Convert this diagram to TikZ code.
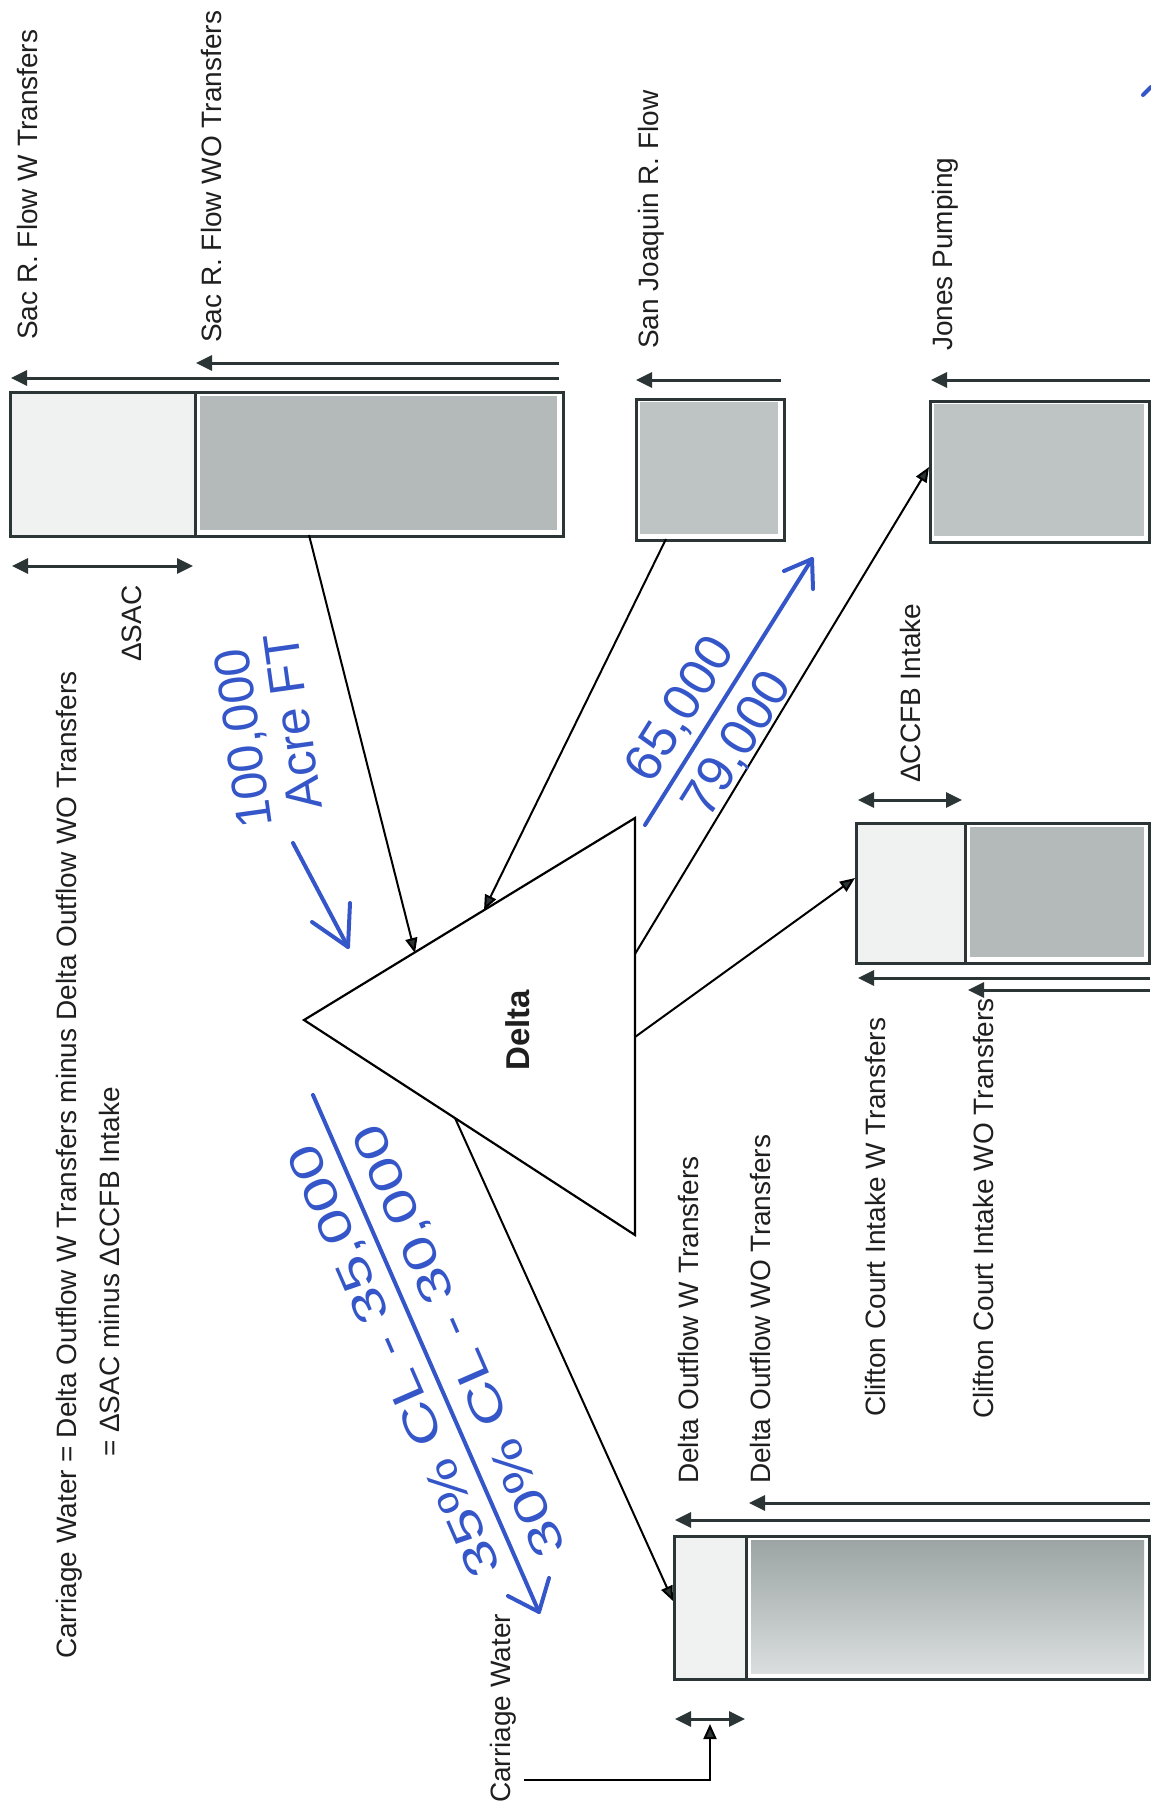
\documentclass[tikz,border=0pt]{standalone}
\usepackage{fontspec}
\setmainfont{Liberation Sans}
\usetikzlibrary{arrows.meta}
\definecolor{ink}{HTML}{2B3535}
\definecolor{pen}{HTML}{3556C8}
\definecolor{lite}{HTML}{F0F1F1}
\definecolor{mid}{HTML}{B4BABA}
\definecolor{midlt}{HTML}{BEC4C4}
\definecolor{middk}{HTML}{9CA4A4}
\definecolor{midfade}{HTML}{DADEDE}
\begin{document}
\begin{tikzpicture}[x=1pt,y=-1pt,
  lbl/.style={rotate=90,anchor=west,inner sep=0pt,font=\fontsize{28}{30}\selectfont,text=black!88},
  flow/.style={draw=ink,line width=3pt,-{Triangle[length=16pt,width=15pt,fill=ink]}},
  dbl/.style={draw=ink,line width=3pt,{Triangle[length=16pt,width=15pt,fill=ink]}-{Triangle[length=16pt,width=15pt,fill=ink]}},
  conn/.style={draw=black,line width=2pt,-{Triangle[length=15pt,width=12pt,fill=ink]}},
  boxframe/.style={draw=ink,line width=3pt,rectangle,inner sep=0pt,anchor=north west},
  divider/.style={draw=ink,line width=3pt},
  pentext/.style={text=pen,inner sep=0pt},
  penline/.style={draw=pen,line width=4pt,line cap=round,line join=round}]
\useasboundingbox (0,0) rectangle (1151,1807);
\fill[white] (0,0) rectangle (1151,1807);

% ---------- Sac box ----------
\fill[lite] (9,391) rectangle (195,535);
\fill[mid] (200,396) rectangle (557,530);
\node[boxframe,minimum width=553pt,minimum height=144pt] (sac) at (9,391) {};
\coordinate (sacdivT) at (195,391);
\coordinate (sacdivB) at (195,535);
\draw[divider] (sacdivT) -- (sacdivB);
\coordinate (sacWs) at (559,378); \coordinate (sacWe) at (11,378);
\coordinate (sacWOs) at (559,363); \coordinate (sacWOe) at (196,363);
\draw[flow] (sacWs) -- (sacWe);
\draw[flow] (sacWOs) -- (sacWOe);
\coordinate (dsacL) at (12,566); \coordinate (dsacR) at (193,566);
\draw[dbl] (dsacL) -- (dsacR);
\node[lbl] (tsacw) at (27,340) {Sac R. Flow W Transfers};
\node[lbl] (tsacwo) at (211,343) {Sac R. Flow WO Transfers};
\node[lbl] (tdsac) at (132,662) {ΔSAC};

% ---------- equation ----------
\node[lbl] (eq1) at (69,1659) {Carriage Water = Delta Outflow W Transfers minus Delta Outflow WO Transfers};
\node[lbl] (eq2) at (109,1457) {= ΔSAC minus ΔCCFB Intake};

% ---------- San Joaquin ----------
\fill[midlt] (640,402) rectangle (778,534);
\node[boxframe,minimum width=148pt,minimum height=141pt] (sj) at (635,398) {};
\coordinate (sjAs) at (781,380); \coordinate (sjAe) at (636,380);
\draw[flow] (sjAs) -- (sjAe);
\node[lbl] (tsj) at (651,349) {San Joaquin R. Flow};

% ---------- Jones ----------
\fill[midlt] (934,404) rectangle (1144,536);
\node[boxframe,minimum width=219pt,minimum height=141pt] (jones) at (929,400) {};
\coordinate (joAs) at (1150,380); \coordinate (joAe) at (931,380);
\draw[flow] (joAs) -- (joAe);
\node[lbl] (tjones) at (945,351) {Jones Pumping};

% ---------- CCFB ----------
\fill[lite] (855,822) rectangle (965,962);
\fill[mid] (970,827) rectangle (1144,957);
\node[boxframe,minimum width=293pt,minimum height=140pt] (ccfb) at (855,822) {};
\coordinate (ccdivT) at (965,822); \coordinate (ccdivB) at (965,962);
\draw[divider] (ccdivT) -- (ccdivB);
\coordinate (dccL) at (858,800); \coordinate (dccR) at (962,800);
\draw[dbl] (dccL) -- (dccR);
\coordinate (ccWs) at (1150,978); \coordinate (ccWe) at (858,978);
\coordinate (ccWOs) at (1150,990); \coordinate (ccWOe) at (968,990);
\draw[flow] (ccWs) -- (ccWe);
\draw[flow] (ccWOs) -- (ccWOe);
\node[lbl] (tdcc) at (910,783) {ΔCCFB Intake};
\node[lbl] (tccw) at (875,1417) {Clifton Court Intake W Transfers};
\node[lbl] (tccwo) at (983,1419) {Clifton Court Intake WO Transfers};

% ---------- Outflow ----------
\fill[lite] (673,1535) rectangle (746,1678);
\shade[top color=middk,bottom color=midfade] (751,1540) rectangle (1144,1673);
\node[boxframe,minimum width=475pt,minimum height=143pt] (outf) at (673,1535) {};
\coordinate (ofdivT) at (746,1535); \coordinate (ofdivB) at (746,1678);
\draw[divider] (ofdivT) -- (ofdivB);
\coordinate (ofWs) at (1150,1520); \coordinate (ofWe) at (675,1520);
\coordinate (ofWOs) at (1150,1503); \coordinate (ofWOe) at (749,1503);
\draw[flow] (ofWs) -- (ofWe);
\draw[flow] (ofWOs) -- (ofWOe);
\node[lbl] (tofw) at (688,1484) {Delta Outflow W Transfers};
\node[lbl] (tofwo) at (760,1484) {Delta Outflow WO Transfers};
\coordinate (dcwL) at (675,1719); \coordinate (dcwR) at (745,1719);
\draw[dbl] (dcwL) -- (dcwR);
\node[lbl] (tcw) at (503,1803) {Carriage Water};
\coordinate (cwA) at (524,1780); \coordinate (cwB) at (710,1780); \coordinate (cwC) at (710,1724);
\draw[draw=black,line width=2pt,-{Triangle[length=15pt,width=13pt,fill=ink]}] (cwA) -- (cwB) -- (cwC);

% ---------- Delta triangle ----------
\coordinate (tL) at (304,1020);
\coordinate (tT) at (635,818);
\coordinate (tB) at (635,1235);
\draw[black,line width=2.2pt,line join=miter] (tL) -- (tT) -- (tB) -- cycle;
\node[rotate=90,inner sep=0pt,font=\fontsize{33}{35}\selectfont\bfseries,text=black!88] (delta) at (518,1030) {Delta};

% ---------- connectors ----------
\coordinate (sacOut) at (309,535);
\coordinate (dIn1) at (415,953);
\coordinate (sjOut) at (666,539);
\coordinate (dIn2) at (484,910);
\coordinate (dOut1) at (635,954);
\coordinate (jonesIn) at (929,467);
\coordinate (dOut2) at (635,1037);
\coordinate (ccfbIn) at (855,878);
\coordinate (dOut3) at (455,1118);
\coordinate (outIn) at (673,1601);
\draw[conn] (sacOut) -- (dIn1);
\draw[conn] (sjOut) -- (dIn2);
\draw[conn] (dOut1) -- (jonesIn);
\draw[conn] (dOut2) -- (ccfbIn);
\draw[conn] (dOut3) -- (outIn);

% ---------- handwritten notes ----------
\node[pentext,rotate=98,font=\fontsize{50}{50}\selectfont] (h1) at (246,738) {100,000};
\node[pentext,rotate=98,font=\fontsize{50}{50}\selectfont] (h2) at (293,722) {Acre FT};
\coordinate (a1s) at (293,843); \coordinate (a1e) at (348,947);
\coordinate (a1b1) at (312,922); \coordinate (a1b2) at (350,903);
\draw[penline] (a1s) -- (a1e);
\draw[penline] (a1b1) -- (a1e) -- (a1b2);

\coordinate (a2s) at (645,825); \coordinate (a2e) at (812,559);
\coordinate (a2b1) at (784,571); \coordinate (a2b2) at (813,589);
\draw[penline] (a2s) -- (a2e);
\draw[penline] (a2b1) -- (a2e) -- (a2b2);
\node[pentext,rotate=58,font=\fontsize{52}{52}\selectfont] (h3) at (681,710) {65,000};
\node[pentext,rotate=58,font=\fontsize{52}{52}\selectfont] (h4) at (738,745) {79,000};

\coordinate (a3s) at (313,1095); \coordinate (a3e) at (539,1612);
\coordinate (a3b1) at (508,1596); \coordinate (a3b2) at (549,1578);
\draw[penline] (a3s) -- (a3e);
\draw[penline] (a3b1) -- (a3e) -- (a3b2);
\node[pentext,rotate=113.6,xscale=1.35,font=\fontsize{46}{46}\selectfont] (h5) at (396,1360) {35\% CL - 35,000};
\node[pentext,rotate=113.6,xscale=1.35,font=\fontsize{46}{46}\selectfont] (h6) at (461,1340) {30\% CL - 30,000};

\coordinate (m1) at (1143,95); \coordinate (m2) at (1151,87);
\draw[penline] (m1) -- (m2);
\end{tikzpicture}
\end{document}
